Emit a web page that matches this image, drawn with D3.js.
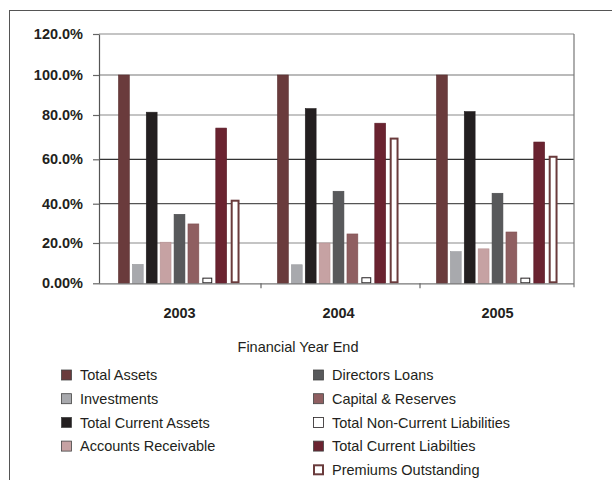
<!DOCTYPE html>
<html>
<head>
<meta charset="utf-8">
<script src="https://cdn.jsdelivr.net/npm/d3@7"></script>
<style>
  html, body { margin: 0; padding: 0; background: #fff; }
  svg { display: block; font-family: "Liberation Sans", Arial, Helvetica, sans-serif; }
</style>
</head>
<body>
<svg id="chart" width="612" height="480"></svg>
<script>
// Financial years on the x axis
const years = ["2003", "2004", "2005"];

// Series names, in cluster order
const seriesNames = [
  "Total Assets",
  "Investments",
  "Total Current Assets",
  "Accounts Receivable",
  "Directors Loans",
  "Capital & Reserves",
  "Total Non-Current Liabilities",
  "Total Current Liabilties",
  "Premiums Outstanding"
];

// Percent of total assets, one value per year
const totalAssets        = [100.0, 100.0, 100.0];
const investments        = [9.4, 9.2, 15.7];
const totalCurrentAssets = [81.4, 83.2, 81.7];
const accountsReceivable = [20.4, 20.0, 17.1];
const directorsLoans     = [34.6, 45.6, 44.7];
const capitalReserves    = [29.7, 24.6, 25.6];
const nonCurrentLiab     = [2.8, 3.0, 2.8];
const currentLiab        = [74.1, 76.3, 67.8];
const premiumsOutstanding = [41.8, 69.8, 61.6];

// Y axis ticks and their labels
const yTicks = [0, 20, 40, 60, 80, 100, 120];
const yTickLabels = ["0.00%", "20.0%", "40.0%", "60.0%", "80.0%", "100.0%", "120.0%"];

const seriesValues = [
  totalAssets, investments, totalCurrentAssets, accountsReceivable,
  directorsLoans, capitalReserves, nonCurrentLiab, currentLiab, premiumsOutstanding
];

// Fill / outline styling per series
const styles = {
  "Total Assets":                  { fill: "#6a3b3c", stroke: "#5a3031", sw: 0.6 },
  "Investments":                   { fill: "#a8a9ad", stroke: "#98999d", sw: 0.6 },
  "Total Current Assets":          { fill: "#231f20", stroke: "#231f20", sw: 0.6 },
  "Accounts Receivable":           { fill: "#c6a2a3", stroke: "#b69293", sw: 0.6 },
  "Directors Loans":               { fill: "#58595b", stroke: "#48494b", sw: 0.6 },
  "Capital & Reserves":            { fill: "#8f5f61", stroke: "#7f5051", sw: 0.6 },
  "Total Non-Current Liabilities": { fill: "#ffffff", stroke: "#231f20", sw: 1, outline: true },
  "Total Current Liabilties":      { fill: "#6a2330", stroke: "#5a1c27", sw: 0.6 },
  "Premiums Outstanding":          { fill: "#ffffff", stroke: "#6a3b3c", sw: 2, outline: true }
};

const svg = d3.select("#chart");
const ink = "#231f20";

// Outer chart frame
svg.append("rect")
  .attr("x", 9.5).attr("y", 10.5)
  .attr("width", 640).attr("height", 500)
  .attr("fill", "none").attr("stroke", "#555").attr("stroke-width", 1);

const plot = { left: 99, right: 574, top: 34, bottom: 283.3 };

const x = d3.scaleBand()
  .domain(years)
  .range([plot.left + 1, plot.right + 3])
  .paddingInner(0.213)
  .paddingOuter(0.1065);

const xInner = d3.scaleBand()
  .domain(seriesNames)
  .range([0, x.bandwidth()])
  .paddingInner(0.22)
  .paddingOuter(0.11);

// The value axis is drawn with slightly uneven spacing between its gridlines
const y = d3.scaleLinear()
  .domain(yTicks)
  .range([283.3, 243, 203.7, 159.3, 115, 75, 34]);

// Gridlines
const gridColor = { 0: "#777", 20: "#8a8a8a", 40: "#555", 60: "#333", 80: "#8a8a8a", 100: "#777", 120: "#8a8a8a" };
svg.append("g")
  .selectAll("line")
  .data(yTicks.filter(t => t > 0))
  .join("line")
  .attr("x1", plot.left).attr("x2", plot.right)
  .attr("y1", d => y(d)).attr("y2", d => y(d))
  .attr("stroke", d => gridColor[d])
  .attr("stroke-width", 1.2);

// Right border of the plot area
svg.append("line")
  .attr("x1", plot.right).attr("x2", plot.right)
  .attr("y1", plot.top).attr("y2", plot.bottom + 4)
  .attr("stroke", "#777").attr("stroke-width", 1.2);

// Bars
const groups = svg.append("g")
  .selectAll("g")
  .data(years)
  .join("g")
  .attr("transform", d => `translate(${x(d)},0)`);

groups.selectAll("rect")
  .data((yr, yi) => seriesNames.map((s, si) => ({ s, v: seriesValues[si][yi] })))
  .join("rect")
  .each(function (d) {
    const st = styles[d.s];
    const bw = xInner.bandwidth();
    const inset = st.outline ? (st.sw >= 2 ? 2 : 1) : 0;
    const yTop = y(d.v) + (st.outline ? st.sw / 2 : 0);
    d3.select(this)
      .attr("x", xInner(d.s) + inset)
      .attr("width", bw - inset * 2)
      .attr("y", yTop)
      .attr("height", y(0) - yTop - (st.outline ? st.sw / 2 : 0))
      .attr("fill", st.fill)
      .attr("stroke", st.stroke)
      .attr("stroke-width", st.sw);
  });

// Y axis
const yAxis = svg.append("g")
  .attr("transform", `translate(${plot.left},0)`)
  .call(d3.axisLeft(y)
    .tickValues(yTicks)
    .tickFormat((d, i) => yTickLabels[i])
    .tickSizeInner(6)
    .tickSizeOuter(0)
    .tickPadding(10));
yAxis.select(".domain").attr("stroke", "#555").attr("stroke-width", 1.2);
yAxis.selectAll(".tick line").attr("stroke", "#666").attr("stroke-width", 1.2);
yAxis.selectAll(".tick text")
  .attr("fill", ink)
  .style("font-size", "14.5px")
  .style("font-weight", "bold");

// X axis
const xAxis = svg.append("g")
  .attr("transform", `translate(0,${plot.bottom})`)
  .call(d3.axisBottom(x).tickSize(0).tickPadding(24));
xAxis.select(".domain").attr("stroke", "#777").attr("stroke-width", 1.2)
  .attr("d", `M${plot.left},0.5H${plot.right}`);
xAxis.selectAll(".tick text")
  .attr("fill", ink)
  .style("font-size", "14.5px")
  .style("font-weight", "bold");

// Category separator ticks
svg.append("g")
  .selectAll("line")
  .data(years.slice(1))
  .join("line")
  .attr("x1", d => x(d) - x.step() * x.paddingInner() / 2 + 2)
  .attr("x2", d => x(d) - x.step() * x.paddingInner() / 2 + 2)
  .attr("y1", plot.bottom).attr("y2", plot.bottom + 5)
  .attr("stroke", "#666").attr("stroke-width", 1.2);

// Axis title
svg.append("text")
  .attr("x", 298).attr("y", 352)
  .attr("text-anchor", "middle")
  .attr("fill", ink)
  .style("font-size", "14.5px")
  .text("Financial Year End");

// Legend: two columns
const legendCols = [
  { x: 61, names: seriesNames.slice(0, 4) },
  { x: 313, names: seriesNames.slice(4) }
];
legendCols.forEach(col => {
  const g = svg.append("g");
  const items = g.selectAll("g")
    .data(col.names)
    .join("g")
    .attr("transform", (d, i) => `translate(${col.x},${375 + i * 23.7})`);
  items.append("rect")
    .each(function (d) {
      const st = styles[d];
      const big = st.outline && st.sw >= 2;
      d3.select(this)
        .attr("x", big ? 1 : 0.5).attr("y", big ? -4.5 : -5)
        .attr("width", big ? 9 : 10).attr("height", big ? 9 : 10)
        .attr("fill", st.fill)
        .attr("stroke", st.outline ? st.stroke : "#444")
        .attr("stroke-width", big ? 2 : 0.8);
    });
  items.append("text")
    .attr("x", 19).attr("y", 0).attr("dy", "0.36em")
    .attr("fill", ink)
    .style("font-size", "14.5px")
    .text(d => d);
});
</script>
</body>
</html>
